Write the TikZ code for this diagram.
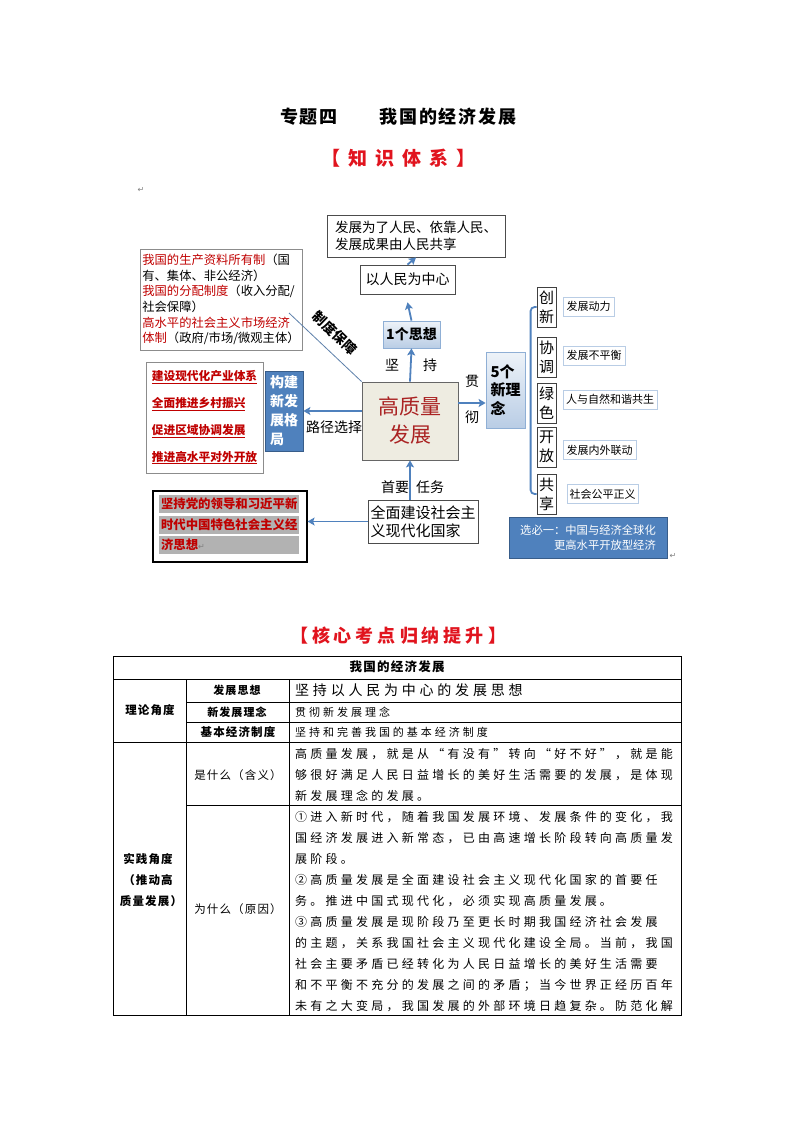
\documentclass[tikz,border=0pt]{standalone}
\usepackage{fontspec}
\setmainfont{Noto Sans CJK SC}
\newfontfamily\tbl[LetterSpace=27]{Noto Sans CJK SC}
\newfontfamily\tlbl[LetterSpace=10]{Noto Sans CJK SC}
\newfontfamily\ttl[LetterSpace=10]{Noto Sans CJK SC}
\newfontfamily\sym{DejaVu Sans}
\newcommand\fsz[2]{\fontsize{#1}{#2}\selectfont}
\newcommand\gp[1]{\hspace{#1pt}}
\usetikzlibrary{arrows.meta}
\definecolor{sblue}{RGB}{79,129,189}
\definecolor{dblue}{RGB}{56,93,138}
\definecolor{lblue}{RGB}{185,205,229}
\definecolor{dred}{RGB}{192,0,0}
\definecolor{tred}{RGB}{225,20,30}
\definecolor{beige}{RGB}{238,236,225}
\definecolor{maroon}{RGB}{170,35,35}
\definecolor{bandgray}{RGB}{178,178,178}
\begin{document}
\begin{tikzpicture}[x=1pt,y=-1pt,
  wbox/.style={draw=black!70, line width=0.8pt, fill=white, inner sep=0pt},
  gbox/.style={draw=black!45, line width=0.8pt, fill=white, inner sep=0pt},
  gradbox/.style={draw=lblue!60!sblue, line width=0.8pt, top color=lblue!25, bottom color=lblue, inner sep=0pt},
  bluebox/.style={draw=dblue, line width=0.8pt, fill=sblue, text=white, inner sep=0pt},
  lbbox/.style={draw=lblue, line width=0.8pt, fill=white, inner sep=0pt, font=\fsz{11}{11}},
  ideabox/.style={draw=black!75, line width=0.8pt, fill=white, inner sep=0pt, minimum width=19, minimum height=40, align=center, font=\fsz{15}{19}},
  arr/.style={-{Stealth[length=7pt,width=8pt,inset=1.5pt]}, sblue, line width=1.8pt},
  lbl/.style={inner sep=0pt, font=\fsz{14}{14}},
  band/.style={fill=bandgray, inner xsep=2pt, inner ysep=0pt, minimum height=18, text width=136, align=left, text=dred, font=\fsz{12.4}{12.4}\bfseries},
  tline/.style={line width=0.8pt, black},
  tx/.style={inner sep=0pt, anchor=west, font=\tbl\fsz{12}{12}},
  tl/.style={inner sep=0pt, font=\tlbl\fsz{11.5}{11.5}},
  pmark/.style={inner sep=0pt, text=black!50, font=\sym\fsz{8}{8}}]
\useasboundingbox (0,0) rectangle (794,1123);
\fill[white] (0,0) rectangle (794,1123);

% titles
\node[inner sep=0pt, font=\ttl\fsz{18}{18}\bfseries] (t1) at (309,117) {专题四};
\node[inner sep=0pt, font=\ttl\fsz{18}{18}\bfseries] (t2) at (448,117) {我国的经济发展};
\node[inner sep=0pt, text=tred, font=\fsz{19}{19}\bfseries] (h1) at (398,158) {【\gp{8}知\gp{8}识\gp{8}体\gp{8}系\gp{8}】};
\node[pmark] (pm1) at (141,190) {↵};

% top chain
\node[wbox, minimum width=178, minimum height=42, align=left, font=\fsz{13.5}{16.5}] (top) at (416,236) {发展为了人民、依靠人民、\\发展成果由人民共享};
\node[wbox, minimum width=95, minimum height=29, font=\fsz{14}{14}] (mid) at (407.5,279.5) {以人民为中心};
\node[gradbox, minimum width=57, minimum height=27, font=\fsz{14}{14}\bfseries] (one) at (411.5,334.5) {1个思想};
\node[draw=black!60, line width=0.8pt, fill=beige, inner sep=0pt, minimum width=96, minimum height=78, align=center, text=maroon, font=\fsz{21}{28}] (core) at (410,421) {高质量\\发展};

\draw[arr] (mid.north) -- (top.south);
\draw[arr] (one.north) -- ([yshift=-8pt]mid.south);
\draw[arr] (core.north) -- (one.south);
\node[lbl] (jian) at (392,365) {坚};
\node[lbl] (chi) at (430,365) {持};

% right side
\node[gradbox, minimum width=39, minimum height=76, align=left, font=\fsz{15}{18.5}\bfseries] (five) at (505.5,390) {5个\\新理\\念};
\draw[arr] ([yshift=18pt]core.east) -- ([yshift=18pt]core.east -| five.west);
\node[lbl] (guan) at (472,381) {贯};
\node[lbl] (che) at (472,417) {彻};

\node[ideabox] (cx) at (546.5,307) {创\\新};
\node[ideabox] (xt) at (546.5,357) {协\\调};
\node[ideabox] (ls) at (546.5,403) {绿\\色};
\node[ideabox] (kf) at (546.5,447) {开\\放};
\node[ideabox] (gx) at (546.5,494) {共\\享};
\draw[sblue, line width=1.8pt, rounded corners=4pt] (cx.west) -- ++(-6,0) |- (gx.west);

\node[lbbox, minimum width=51, minimum height=19] (d1) at (588.5,306.5) {发展动力};
\node[lbbox, minimum width=62, minimum height=19] (d2) at (594,355.5) {发展不平衡};
\node[lbbox, minimum width=94, minimum height=19] (d3) at (610,399.5) {人与自然和谐共生};
\node[lbbox, minimum width=73, minimum height=19] (d4) at (599.5,450) {发展内外联动};
\node[lbbox, minimum width=71, minimum height=19] (d5) at (602.5,494) {社会公平正义};

\node[bluebox, minimum width=158, minimum height=41, align=right, font=\fsz{11.3}{15}] (xuan) at (588,537.5) {选必一：中国与经济全球化\\更高水平开放型经济};
\node[pmark] (pm2) at (673,556) {↵};

% left side
\node[gbox, minimum width=162, minimum height=101, align=left, font=\fsz{12.3}{15.6}] (sys) at (221,299.5) {{\color{dred}我国的生产资料所有制}（国\\有、集体、非公经济）\\{\color{dred}我国的分配制度}（收入分配/\\社会保障）\\{\color{dred}高水平的社会主义市场经济}\\{\color{dred}体制}（政府/市场/微观主体）};
\coordinate (zd) at (289,313);
\draw[sblue!70!gray, line width=0.8pt] (zd) -- (core.north west);
\node[inner sep=0pt, rotate=-44, font=\fsz{13.5}{13.5}\bfseries] (zdbz) at (335,333) {制度保障};

\node[gbox, minimum width=117, minimum height=111, align=left, text=dred, font=\fsz{11.7}{26.7}\bfseries] (path) at (204.5,417.5) {\underline{建设现代化产业体系}\\\underline{全面推进乡村振兴}\\\underline{促进区域协调发展}\\\underline{推进高水平对外开放}};
\node[bluebox, minimum width=38, minimum height=80, align=left, font=\fsz{14}{19}\bfseries] (build) at (284,411) {构建\\新发\\展格\\局};
\draw[arr] ([yshift=10pt]core.west) -- ([yshift=10pt]core.west -| build.east);
\node[lbl] (ljxz) at (334,427) {路径选择};

% bottom
\node[wbox, minimum width=110, minimum height=43, align=left, font=\fsz{15}{18.5}] (task) at (423,521.5) {全面建设社会主\\义现代化国家};
\draw[arr] (core.south |- task.north) -- (core.south);
\node[lbl] (sy) at (395,487) {首要};
\node[lbl] (rw) at (430,487) {任务};

\node[draw=black, line width=1.2pt, fill=white, inner sep=0pt, minimum width=154, minimum height=71] (lead) at (230,526.5) {};
\node[band] (b1) at (229,504) {坚持党的领导和习近平新};
\node[band] (b2) at (229,524.5) {时代中国特色社会主义经};
\node[band] (b3) at (229,545) {济思想{\sym\mdseries\color{black!50}\fsz{8}{8}↵}};
\draw[arr] (task.west) -- (task.west -| lead.east);

% second heading
\node[inner sep=0pt, text=tred, font=\fsz{18}{18}\bfseries] (h2) at (398,636) {【\gp{4}核\gp{4}心\gp{4}考\gp{4}点\gp{4}归\gp{4}纳\gp{4}提\gp{4}升\gp{4}】};

% table
\draw[tline] (113,656) rectangle (681,1015);
\draw[tline] (113,679) -- (681,679);
\draw[tline] (186,702) -- (681,702);
\draw[tline] (186,722) -- (681,722);
\draw[tline] (113,742) -- (681,742);
\draw[tline] (186,805) -- (681,805);
\draw[tline] (186,679) -- (186,1015);
\draw[tline] (289,679) -- (289,1015);

\node[tl, font=\tlbl\fsz{12.5}{12.5}\bfseries] (th) at (397,667) {我国的经济发展};
\node[tl, font=\tlbl\fsz{11.5}{11.5}\bfseries] (c1a) at (150,710) {理论角度};
\node[tl, font=\tlbl\fsz{11.5}{11.5}\bfseries] (c1b) at (148,859) {实践角度};
\node[tl, font=\tlbl\fsz{11.5}{11.5}\bfseries] (c1c) at (148,880) {（推动高};
\node[tl, font=\tlbl\fsz{11.5}{11.5}\bfseries] (c1d) at (151,901) {质量发展）};
\node[tl, font=\tlbl\fsz{11}{11}\bfseries] (c2a) at (237,690) {发展思想};
\node[tl, font=\tlbl\fsz{11}{11}\bfseries] (c2b) at (237,712) {新发展理念};
\node[tl, font=\tlbl\fsz{11.5}{11.5}\bfseries] (c2c) at (238,732) {基本经济制度};
\node[tl] (c2d) at (238,775) {是什么（含义）};
\node[tl] (c2e) at (238,909) {为什么（原因）};

\node[tx, font=\tbl\fsz{14}{14}] (r1) at (295,690) {坚持以人民为中心的发展思想};
\node[tx, font=\tbl\fsz{11}{11}] (r2) at (295,712) {贯彻新发展理念};
\node[tx, font=\tbl\fsz{11}{11}] (r3) at (295,732) {坚持和完善我国的基本经济制度};

\foreach \t [count=\i from 0] in {高质量发展，就是从“有没有”转向“好不好”，就是能, 够很好满足人民日益增长的美好生活需要的发展，是体现, 新发展理念的发展。}
  \node[tx] (a\i) at (295,754+21*\i) {\t};

\foreach \t [count=\i from 0] in {①进入新时代，随着我国发展环境、发展条件的变化，我, 国经济发展进入新常态，已由高速增长阶段转向高质量发, 展阶段。, ②高质量发展是全面建设社会主义现代化国家的首要任, 务。推进中国式现代化，必须实现高质量发展。, ③高质量发展是现阶段乃至更长时期我国经济社会发展, 的主题，关系我国社会主义现代化建设全局。当前，我国, 社会主要矛盾已经转化为人民日益增长的美好生活需要, 和不平衡不充分的发展之间的矛盾；当今世界正经历百年, 未有之大变局，我国发展的外部环境日趋复杂。防范化解}
  \node[tx] (w\i) at (295,817+21*\i) {\t};
\end{tikzpicture}
\end{document}
